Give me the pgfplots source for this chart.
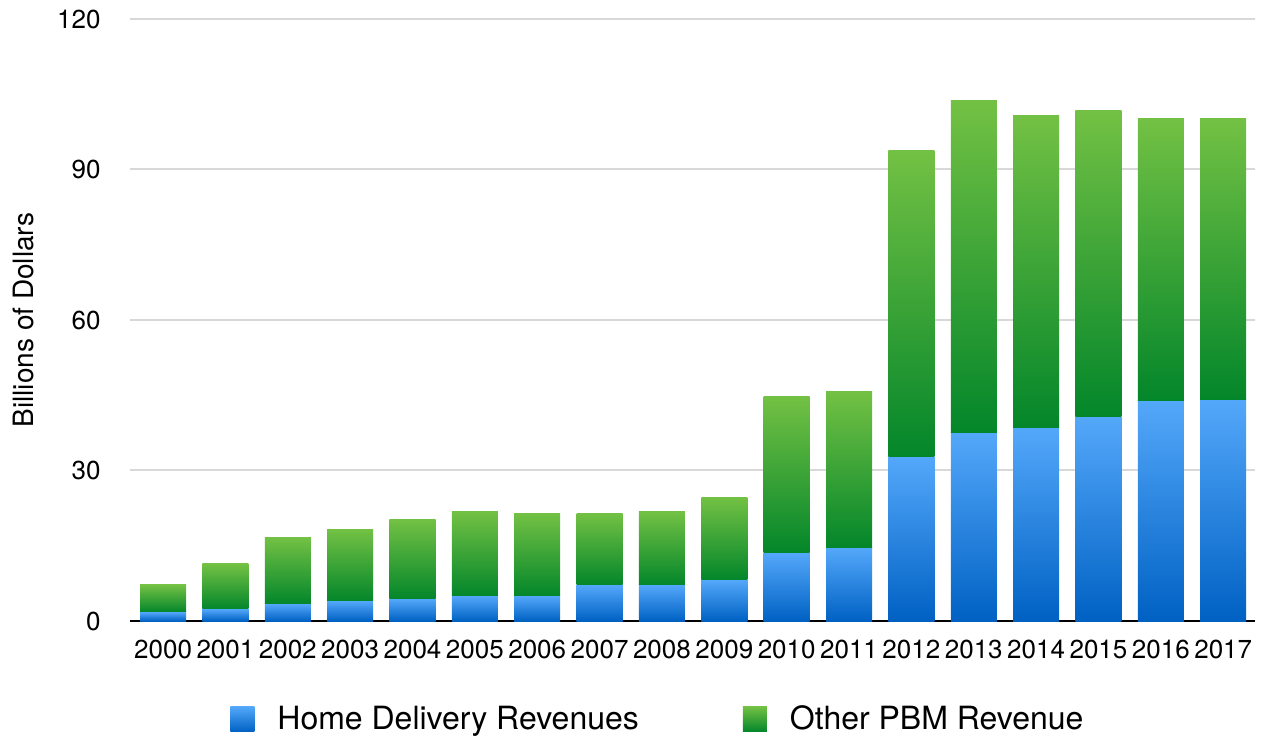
\documentclass[border=0pt]{standalone}
\usepackage{pgfplots}
\usepackage{pgfplotstable}
\pgfplotsset{compat=1.18}
\usepackage{fontspec}
\setmainfont{TeX Gyre Heros}
\definecolor{bluetop}{HTML}{54A8FA}
\definecolor{bluebot}{HTML}{0061C3}
\definecolor{greentop}{HTML}{73C144}
\definecolor{greenbot}{HTML}{03862A}
\definecolor{gridgray}{HTML}{D8D8D8}
% year index, Home Delivery Revenues, Other PBM Revenue (billions of dollars)
\pgfplotstableread{
x  blue  green
0  1.8   5.4
1  2.4   9.0
2  3.4   13.3
3  4.0   14.3
4  4.4   15.9
5  5.0   16.9
6  5.0   16.5
7  7.2   14.3
8  7.2   14.7
9  8.2   16.5
10 13.6  31.2
11 14.6  31.2
12 32.7  61.0
13 37.5  66.3
14 38.5  62.2
15 40.7  61.0
16 43.9  56.2
17 44.2  55.9
}\data
\begin{document}
\begin{tikzpicture}
\begin{axis}[
  name=ax,
  scale only axis,
  width=562.5pt, height=301pt,
  xmin=-0.53, xmax=17.51,
  ymin=0, ymax=120,
  ytick={0,30,60,90,120},
  xtick={0,...,17},
  xticklabels={2000,2001,2002,2003,2004,2005,2006,2007,2008,2009,2010,2011,2012,2013,2014,2015,2016,2017},
  /pgf/number format/assume math mode=true,
  axis line style={draw=none},
  major tick length=0pt,
  tick style={draw=none},
  ymajorgrids, grid style={gridgray, line width=1pt},
  xticklabel style={font=\fontsize{13}{15}\selectfont, inner sep=0pt, anchor=north, yshift=-9.5pt},
  yticklabel style={font=\fontsize{13}{15}\selectfont, inner sep=0pt, anchor=east, xshift=-14.5pt},
  ylabel={Billions of Dollars},
  every axis y label/.style={at={(axis description cs:-0.0951,0.5)}, rotate=90, anchor=center, font=\fontsize{14}{16}\selectfont},
  legend columns=2,
  legend style={at={(axis description cs:0.0889,-0.163)}, anchor=west, draw=none, fill=none, inner xsep=0pt, inner ysep=2pt,
    font=\fontsize{16}{18}\selectfont,
    nodes={inner sep=0pt},
    /tikz/every odd column/.append style={column sep=11.5pt},
    /tikz/every even column/.append style={column sep=52pt}},
]
% bars: each bar drawn as its own shaded rectangle (height = value * 301pt/120)
\addplot[scatter, only marks, mark=*, mark size=0pt, mark options={draw=none, fill=none},
  point meta=y,
  visualization depends on={\thisrow{blue} \as \hval},
  scatter/@pre marker code/.code={\shade[draw=none, top color=bluetop, bottom color=bluebot] (-11.5pt,0pt) rectangle (11.5pt,\hval*2.508333pt);},
  scatter/@post marker code/.code={},
  legend image code/.code={\shade[draw=none, top color=bluetop, bottom color=bluebot] (0pt,-6.25pt) rectangle (12pt,6.25pt);},
] table[x=x, y expr=0] {\data};
\addlegendentry{Home Delivery Revenues}
\addplot[scatter, only marks, mark=*, mark size=0pt, mark options={draw=none, fill=none},
  point meta=y,
  visualization depends on={\thisrow{green} \as \hval},
  scatter/@pre marker code/.code={\shade[draw=none, top color=greentop, bottom color=greenbot] (-11.5pt,0pt) rectangle (11.5pt,\hval*2.508333pt);},
  scatter/@post marker code/.code={},
  legend image code/.code={\shade[draw=none, top color=greentop, bottom color=greenbot] (0pt,-6.25pt) rectangle (12pt,6.25pt);},
] table[x=x, y=blue] {\data};
\addlegendentry{Other PBM Revenue}
\draw[black, line width=1.25pt] (rel axis cs:0,0) -- (rel axis cs:1,0);
\end{axis}
\pgfresetboundingbox
\path[use as bounding box] ([xshift=-65pt,yshift=-58.5pt]ax.south west) rectangle ([xshift=3.5pt,yshift=9.5pt]ax.north east);
\end{tikzpicture}
\end{document}
